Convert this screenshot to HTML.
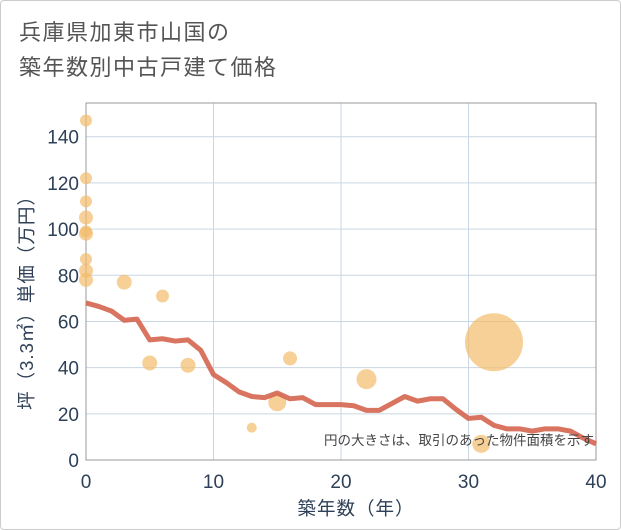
<!DOCTYPE html>
<html><head><meta charset="utf-8"><style>
body{margin:0;background:#fff;}
#wrap{position:relative;width:619px;height:528px;border:1px solid #ccc;border-radius:4px;background:#fff;overflow:hidden;font-family:"Liberation Sans","Noto Sans CJK JP",sans-serif;}
#title{position:absolute;left:18px;top:14px;font-size:22px;line-height:35px;color:#555;letter-spacing:1.5px;}
svg text{font-family:"Liberation Sans","Noto Sans CJK JP",sans-serif;}
</style></head><body>
<div id="wrap">
<div id="title">兵庫県加東市山国の<br>築年数別中古戸建て価格</div>
<svg id="chart" width="621" height="530" style="position:absolute;left:-1px;top:-1px"></svg>
</div>
<script>
const lineYears=[0,1,2,3,4,5,6,7,8,9,10,11,12,13,14,15,16,17,18,19,20,21,22,23,24,25,26,27,28,29,30,31,32,33,34,35,36,37,38,39,40];
const lineValues=[68,66.5,64.5,60.5,61,52,52.5,51.5,52,47.5,37,33.5,29.5,27.5,27,29,26.5,27,24,24,24,23.5,21.5,21.5,24.5,27.5,25.5,26.5,26.5,22,18,18.5,15,13.5,13.5,12.5,13.5,13.5,12.5,9.5,7];
const bubbleX=[0,0,0,0,0,0,0,0,0,3,6,5,8,13,15,16,22,31,32];
const bubbleY=[147,122,112,105,98,99,87,82,78,77,71,42,41,14,25,44,35,7,51];
const bubbleSize=[36,36,36,49,49,36,36,49,49,56,42,56,56,25,81,49,100,81,841];
const xTicks=[0,10,20,30,40];
const yTicks=[0,20,40,60,80,100,120,140];
const NS='http://www.w3.org/2000/svg';
const svg=document.getElementById('chart');
const L=86,R=596,T=103,B=460;
const xs=v=>L+(v-0)/40*(R-L);
const ys=v=>B-v/140*(B-136.7);
function mk(t,a){const e=document.createElementNS(NS,t);for(const k in a)e.setAttribute(k,a[k]);svg.appendChild(e);return e;}
yTicks.forEach(v=>{
 const g=mk('line',{x1:L,x2:R,y1:ys(v),y2:ys(v),stroke:'#c9d6e3','stroke-width':1});
 
 
 const t=mk('text',{x:L-7,y:ys(v)+7,'text-anchor':'end','font-size':19,fill:'#2e4057'});
 t.textContent=v;
 
 
});
xTicks.forEach(v=>{
 const g=mk('line',{x1:xs(v),x2:xs(v),y1:T,y2:B,stroke:'#c9d6e3','stroke-width':1});
 
 
 const t=mk('text',{x:xs(v),y:B+28,'text-anchor':'middle','font-size':19,fill:'#2e4057'});
 t.textContent=v;
 
 
});
const fr=mk('rect',{x:L,y:T,width:R-L,height:B-T,fill:'none',stroke:'#999','stroke-width':1});


bubbleX.forEach((x,i)=>{
 const c=mk('circle',{cx:xs(x),cy:ys(bubbleY[i]),r:Math.sqrt(bubbleSize[i]),fill:'#f2bc6a','fill-opacity':0.7});
 
 
});
const p=mk('polyline',{points:lineYears.map((x,i)=>xs(x)+','+ys(lineValues[i])).join(' '),fill:'none',stroke:'#d4654e','stroke-width':5,'stroke-opacity':0.9,'stroke-linejoin':'round'});


const n=mk('text',{x:594,y:445,'text-anchor':'end','font-size':13.5,fill:'#444'});
n.textContent='円の大きさは、取引のあった物件面積を示す';


const xt=mk('text',{x:356,y:515,'text-anchor':'middle','font-size':18.5,fill:'#2e4057','letter-spacing':1});
xt.textContent='築年数（年）';


const yt=mk('text',{x:0,y:0,'text-anchor':'middle','font-size':18.5,fill:'#2e4057','letter-spacing':1,transform:'translate(33,298) rotate(-90)'});
yt.textContent='坪（3.3㎡）単価（万円）';


</script>
</body></html>
